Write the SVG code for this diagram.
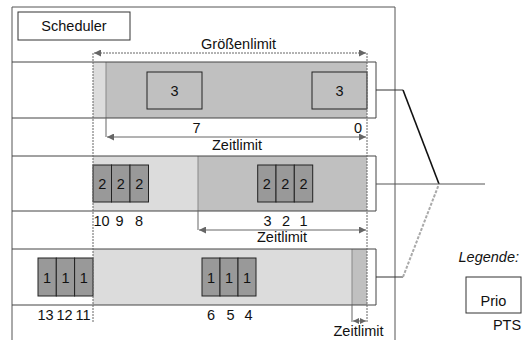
<svg xmlns="http://www.w3.org/2000/svg" width="524" height="340" viewBox="0 0 524 340">
<defs>
<marker id="ah" viewBox="0 0 10 10" refX="10" refY="5" markerWidth="8" markerHeight="7" markerUnits="userSpaceOnUse" orient="auto-start-reverse">
<path d="M0,0 L10,5 L0,10 z" fill="#666"/>
</marker>
<marker id="ahs" viewBox="0 0 10 10" refX="10" refY="5" markerWidth="6" markerHeight="6" markerUnits="userSpaceOnUse" orient="auto-start-reverse">
<path d="M0,0 L10,5 L0,10 z" fill="#666"/>
</marker>
</defs>
<style>
text{font-family:"Liberation Sans",Arial,sans-serif;font-size:14.5px;fill:#111}
.m{text-anchor:middle}
.frame{fill:none;stroke:#555;stroke-width:1}
.row{fill:none;stroke:#444;stroke-width:1}
.lt{fill:#dcdcdc;stroke:none}
.dk{fill:#c0c0c0;stroke:none}
.div{stroke:#888;stroke-width:1}
.b3{fill:#c0c0c0;stroke:#222;stroke-width:1}
.bx{fill:#999;stroke:#222;stroke-width:1}
.dot{stroke:#666;stroke-width:1;stroke-dasharray:2,1;fill:none}
.arr{stroke:#666;stroke-width:1;fill:none}
.vl{stroke:#666;stroke-width:1}
</style>
<rect width="524" height="340" fill="#fff"/>
<g id="scheduler-frame">
<path class="frame" d="M12,340 V7 H395 V340"/>
</g>
<g id="scheduler">
<rect x="18" y="12" width="112" height="28" fill="#fff" stroke="#333"/>
<text class="m" x="74" y="31">Scheduler</text>
</g>
<g id="row1">
<rect class="lt" x="93" y="62" width="13" height="56"/>
<rect class="dk" x="106" y="62" width="261" height="56"/>
<line class="div" x1="106" y1="62" x2="106" y2="118"/>
<path class="row" d="M12,62 H376 V118 H12"/>
<g id="r1b1"><rect class="b3" x="147" y="72" width="55" height="37"/><text class="m" x="174.5" y="95.5">3</text></g>
<g id="r1b2"><rect class="b3" x="312" y="72" width="55" height="37"/><text class="m" x="339.5" y="95.5">3</text></g>
<text class="m" x="196.5" y="133">7</text>
<text class="m" x="358" y="133">0</text>
</g>
<g id="row2">
<rect class="lt" x="93" y="156" width="105" height="55"/>
<rect class="dk" x="198" y="156" width="169" height="55"/>
<line class="div" x1="198" y1="156" x2="198" y2="211"/>
<path class="row" d="M12,156 H376 V211 H12"/>
<g id="r2b10"><rect class="bx" x="93" y="165" width="18.5" height="37"/><text class="m" x="102.2" y="189">2</text></g>
<g id="r2b9"><rect class="bx" x="111.5" y="165" width="18.5" height="37"/><text class="m" x="120.7" y="189">2</text></g>
<g id="r2b8"><rect class="bx" x="130" y="165" width="18.5" height="37"/><text class="m" x="139.2" y="189">2</text></g>
<g id="r2b3"><rect class="bx" x="257.7" y="165" width="18.3" height="37"/><text class="m" x="266.9" y="189">2</text></g>
<g id="r2b2"><rect class="bx" x="276" y="165" width="18.3" height="37"/><text class="m" x="285.2" y="189">2</text></g>
<g id="r2b1"><rect class="bx" x="294.3" y="165" width="18.4" height="37"/><text class="m" x="303.5" y="189">2</text></g>
<text class="m" x="101.5" y="226">10</text>
<text class="m" x="119.5" y="226">9</text>
<text class="m" x="139" y="226">8</text>
<text class="m" x="267.5" y="226">3</text>
<text class="m" x="286" y="226">2</text>
<text class="m" x="303.5" y="226">1</text>
</g>
<g id="row3">
<rect class="lt" x="93" y="249" width="259" height="56"/>
<rect class="dk" x="352" y="249" width="15" height="56"/>
<line class="div" x1="352" y1="249" x2="352" y2="305"/>
<path class="row" d="M12,249 H376 V305 H12"/>
<g id="r3b13"><rect class="bx" x="38" y="258" width="18.3" height="38"/><text class="m" x="47" y="282.5">1</text></g>
<g id="r3b12"><rect class="bx" x="56.3" y="258" width="18.3" height="38"/><text class="m" x="65.5" y="282.5">1</text></g>
<g id="r3b11"><rect class="bx" x="74.6" y="258" width="18.4" height="38"/><text class="m" x="83.8" y="282.5">1</text></g>
<g id="r3b6"><rect class="bx" x="202" y="258" width="18" height="38"/><text class="m" x="211" y="282.5">1</text></g>
<g id="r3b5"><rect class="bx" x="220" y="258" width="18" height="38"/><text class="m" x="229" y="282.5">1</text></g>
<g id="r3b4"><rect class="bx" x="238" y="258" width="18" height="38"/><text class="m" x="247" y="282.5">1</text></g>
<text class="m" x="45.5" y="320">13</text>
<text class="m" x="64.5" y="320">12</text>
<text class="m" x="83" y="320">11</text>
<text class="m" x="211" y="320">6</text>
<text class="m" x="230.5" y="320">5</text>
<text class="m" x="248.5" y="320">4</text>
</g>
<g id="legend">
<text x="458.5" y="261.5" font-style="italic">Legende:</text>
<rect x="466" y="277" width="55" height="36" fill="#fff" stroke="#333"/>
<text class="m" x="493.5" y="305.5">Prio</text>
<text class="m" x="507" y="330">PTS</text>
</g>
<g id="connectors">
<line class="dot" x1="93" y1="53" x2="93" y2="323"/>
<line class="dot" x1="367" y1="53" x2="367" y2="323"/>
<line class="dot" x1="94" y1="53" x2="366" y2="53" marker-start="url(#ah)" marker-end="url(#ah)"/>
<text class="m" x="238.5" y="49">Größenlimit</text>
<line class="vl" x1="106" y1="118" x2="106" y2="137"/>
<line class="arr" x1="107" y1="137" x2="366" y2="137" marker-start="url(#ah)" marker-end="url(#ah)"/>
<text class="m" x="237" y="150">Zeitlimit</text>
<line class="vl" x1="198" y1="211" x2="198" y2="230"/>
<line class="arr" x1="199" y1="230" x2="366" y2="230" marker-start="url(#ah)" marker-end="url(#ah)"/>
<text class="m" x="282" y="242">Zeitlimit</text>
<line class="vl" x1="352" y1="305" x2="352" y2="322"/>
<line class="arr" x1="353" y1="321" x2="366" y2="321" marker-start="url(#ahs)" marker-end="url(#ahs)"/>
<text class="m" x="358.5" y="336">Zeitlimit</text>
<line x1="376" y1="90" x2="403" y2="90" stroke="#333" stroke-width="1"/>
<line x1="403" y1="90" x2="439" y2="184" stroke="#111" stroke-width="1.6"/>
<line x1="376" y1="184" x2="485" y2="184" stroke="#555" stroke-width="1"/>
<line x1="402" y1="184" x2="438" y2="184" stroke="#aaa" stroke-width="2" stroke-dasharray="3,1.5"/>
<line x1="376" y1="277" x2="403" y2="277" stroke="#333" stroke-width="1"/>
<line x1="403" y1="277" x2="439" y2="184" stroke="#aaa" stroke-width="2" stroke-dasharray="3,1.5"/>
</g>
</svg>
